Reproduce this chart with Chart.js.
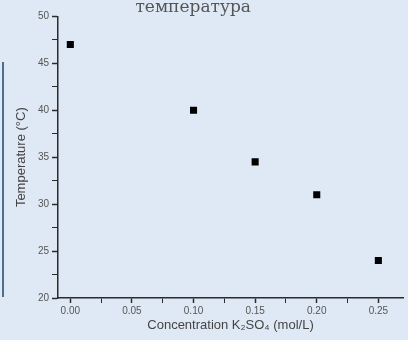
<!DOCTYPE html>
<html>
<head>
<meta charset="utf-8">
<script src="https://cdn.jsdelivr.net/npm/chart.js@4"></script>
<style>
  html, body { margin: 0; padding: 0; background: #dfe9f5; }
  #wrap { width: 408px; height: 340px; }
</style>
</head>
<body>
<div id="wrap"><canvas id="myChart" width="408" height="340"></canvas></div>
<script>
'use strict';

// data
var concentration = [0.00, 0.10, 0.15, 0.20, 0.25];
var temperature = [47, 40, 34.5, 31, 24];

var xTickValues = [0, 0.05, 0.10, 0.15, 0.20, 0.25];
var xTickLabels = ['0.00', '0.05', '0.10', '0.15', '0.20', '0.25'];
var yTickValues = [20, 25, 30, 35, 40, 45, 50];
var yTickLabels = ['20', '25', '30', '35', '40', '45', '50'];

// major ticks + a minor tick half way between each pair
function withMinor(values) {
  var out = [];
  values.forEach(function (v, i) {
    out.push({ value: v, major: true });
    if (i < values.length - 1) {
      out.push({ value: (v + values[i + 1]) / 2, major: false });
    }
  });
  return out;
}

function labelFor(values, labels) {
  return function (value) {
    for (var i = 0; i < values.length; i++) {
      if (Math.abs(values[i] - value) < 1e-9) return labels[i];
    }
    return '';
  };
}

// blue bar on the left edge of the page scan
var leftBar = {
  id: 'leftBar',
  beforeDraw: function (chart) {
    var c = chart.ctx;
    c.save();
    c.fillStyle = '#dfe9f5';
    c.fillRect(0, 0, chart.width, chart.height);
    c.strokeStyle = '#4f6d8d';
    c.lineWidth = 2;
    c.beginPath();
    c.moveTo(3, 62);
    c.lineTo(3, 297);
    c.stroke();
    c.restore();
  }
};

var axisColor = '#2b2b2b';
var textColor = '#555555';

var ctx = document.getElementById('myChart').getContext('2d');
var chart = new Chart(ctx, {
  type: 'scatter',
  data: {
    datasets: [{
      label: 'Temperature',
      data: concentration.map(function (c, i) { return { x: c, y: temperature[i] }; }),
      pointStyle: 'rect',
      pointRadius: 5,
      pointHoverRadius: 5,
      backgroundColor: '#000000',
      borderColor: '#000000',
      borderWidth: 0
    }]
  },
  options: {
    responsive: false,
    animation: false,
    layout: { padding: 0 },
    plugins: {
      legend: { display: false },
      tooltip: { enabled: false },
      title: {
        display: true,
        text: 'температура    ',
        color: textColor,
        font: { family: '"DejaVu Serif", "Liberation Serif", serif', size: 17, weight: 'normal' },
        padding: { top: -3, bottom: -1 }
      }
    },
    scales: {
      x: {
        type: 'linear',
        min: -0.01,
        max: 0.27,
        afterBuildTicks: function (scale) { scale.ticks = withMinor(xTickValues); },
        afterFit: function (scale) { scale.height = 42; },
        border: { color: axisColor, width: 1.5 },
        grid: {
          drawOnChartArea: false,
          drawTicks: true,
          tickLength: 5,
          tickColor: axisColor,
          tickWidth: function (c) { return c.tick && c.tick.major ? 1.5 : 1; }
        },
        ticks: {
          autoSkip: false,
          maxRotation: 0,
          padding: 2,
          color: textColor,
          font: { family: '"Liberation Sans", Arial, sans-serif', size: 10 },
          callback: labelFor(xTickValues, xTickLabels)
        },
        title: {
          display: true,
          text: 'Concentration K₂SO₄ (mol/L)',
          color: '#444444',
          font: { family: '"Liberation Sans", Arial, sans-serif', size: 13 },
          padding: { top: 0, bottom: 7 }
        }
      },
      y: {
        min: 20,
        max: 50,
        afterBuildTicks: function (scale) { scale.ticks = withMinor(yTickValues); },
        afterFit: function (scale) { scale.width = 58; },
        border: { color: axisColor, width: 1.5 },
        grid: {
          drawOnChartArea: false,
          drawTicks: true,
          tickLength: 6,
          tickColor: axisColor,
          tickWidth: function (c) { return c.tick && c.tick.major ? 1.5 : 1; }
        },
        ticks: {
          autoSkip: false,
          padding: 3,
          color: textColor,
          font: { family: '"Liberation Sans", Arial, sans-serif', size: 10 },
          callback: labelFor(yTickValues, yTickLabels)
        },
        title: {
          display: true,
          text: 'Temperature (°C)',
          color: '#444444',
          font: { family: '"Liberation Sans", Arial, sans-serif', size: 13 },
          padding: { top: 14, bottom: 0 }
        }
      }
    }
  },
  plugins: [leftBar]
});
</script>
</body>
</html>
